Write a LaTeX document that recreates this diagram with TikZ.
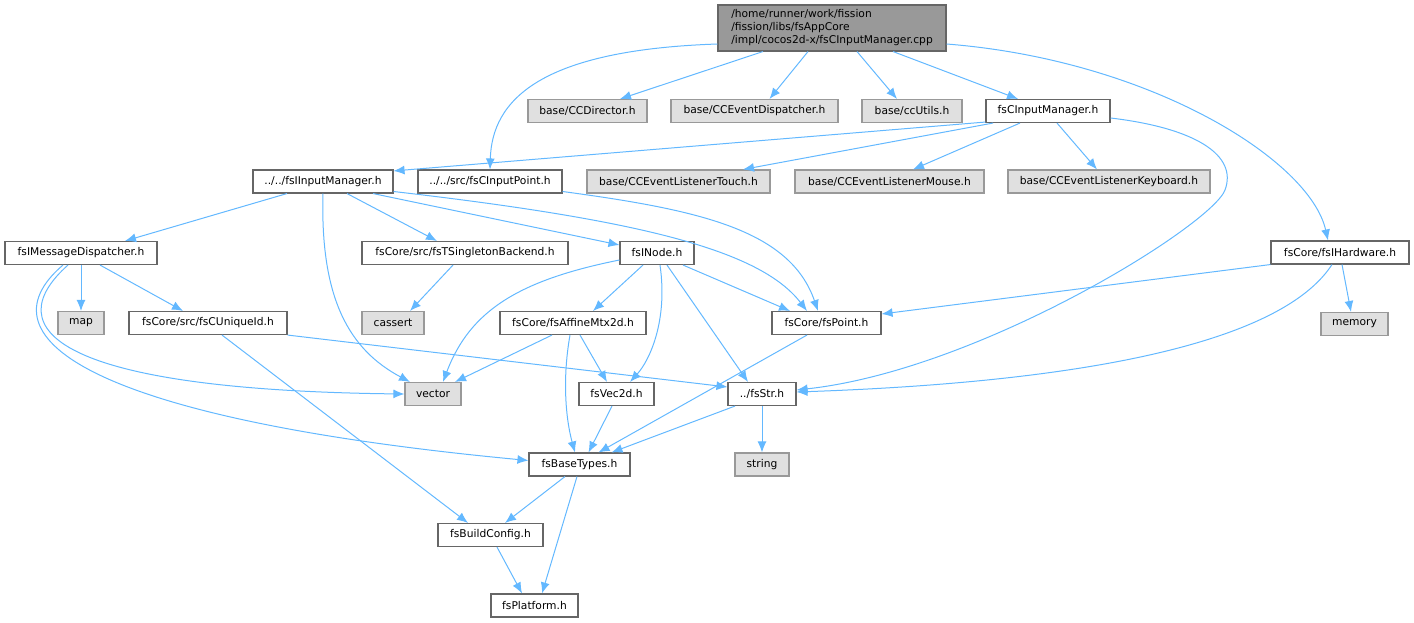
\documentclass[tikz,border=0pt]{standalone}
\usepackage{fontspec}
\setmainfont{DejaVu Sans}
\usetikzlibrary{arrows.meta}
\definecolor{edgec}{HTML}{63B8FF}
\definecolor{bdark}{HTML}{666666}
\definecolor{blight}{HTML}{999999}
\definecolor{fgray}{HTML}{E0E0E0}
\definecolor{froot}{HTML}{999999}
\begin{document}
\begin{tikzpicture}[x=1pt,y=-1pt,
  every node/.style={font=\fontsize{10.7}{13}\selectfont, inner sep=0pt, minimum height=23pt, line width=1.1pt},
  wnode/.style={draw=bdark, fill=white},
  gnode/.style={draw=blight, fill=fgray},
  rnode/.style={draw=bdark, fill=froot, align=left},
  edge/.style={draw=edgec, line width=1pt, -{Latex[length=11pt,width=9pt]}}]
\useasboundingbox (0,0) rectangle (1414,623);
% nodes
\node[rnode, minimum width=228pt, minimum height=46pt] (root) at (832,28) {/home/runner/work/fission\\/fission/libs/fsAppCore\\/impl/cocos2d-x/fsCInputManager.cpp};
\node[gnode, minimum width=119pt] (ccdir) at (587.5,111) {base/CCDirector.h};
\node[gnode, minimum width=167pt] (ccdisp) at (754.5,111) {base/CCEventDispatcher.h};
\node[gnode, minimum width=100pt] (ccutils) at (912,111) {base/ccUtils.h};
\node[wnode, minimum width=124pt] (cim) at (1048,111) {fsCInputManager.h};
\node[wnode, minimum width=140pt] (iim) at (323,181.5) {../../fsIInputManager.h};
\node[wnode, minimum width=144pt] (cip) at (490,181.5) {../../src/fsCInputPoint.h};
\node[gnode, minimum width=183pt] (touch) at (678.5,181.5) {base/CCEventListenerTouch.h};
\node[gnode, minimum width=189pt] (mouse) at (889.5,181.5) {base/CCEventListenerMouse.h};
\node[gnode, minimum width=202pt] (kbd) at (1109,181.5) {base/CCEventListenerKeyboard.h};
\node[wnode, minimum width=138pt] (hw) at (1340,252.5) {fsCore/fsIHardware.h};
\node[gnode, minimum width=67pt] (memory) at (1354.5,324) {memory};
\node[wnode, minimum width=152pt] (imd) at (81,253) {fsIMessageDispatcher.h};
\node[gnode, minimum width=46pt] (map) at (81,323) {map};
\node[wnode, minimum width=158pt] (uid) at (208,323) {fsCore/src/fsCUniqueId.h};
\node[wnode, minimum width=206pt] (sgl) at (465,253) {fsCore/src/fsTSingletonBackend.h};
\node[gnode, minimum width=62pt] (cassert) at (393,323) {cassert};
\node[gnode, minimum width=56pt] (vector) at (433,394) {vector};
\node[wnode, minimum width=74pt] (inode) at (657,253) {fsINode.h};
\node[wnode, minimum width=146pt] (affine) at (573,323) {fsCore/fsAffineMtx2d.h};
\node[wnode, minimum width=109pt] (point) at (826.5,323) {fsCore/fsPoint.h};
\node[wnode, minimum width=75pt] (vec2d) at (616.5,394) {fsVec2d.h};
\node[wnode, minimum width=68pt] (str) at (762,394) {../fsStr.h};
\node[wnode, minimum width=101pt] (base) at (579.5,464.5) {fsBaseTypes.h};
\node[gnode, minimum width=54pt] (string) at (762,464.5) {string};
\node[wnode, minimum width=105pt] (build) at (490.5,535) {fsBuildConfig.h};
\node[wnode, minimum width=87pt] (plat) at (534.5,605.5) {fsPlatform.h};
% edges
\draw[edge] ([xshift=-69pt]root.south) -- ([xshift=32.5pt]ccdir.north);
\draw[edge] ([xshift=-24pt]root.south) -- ([xshift=15pt]ccdisp.north);
\draw[edge] ([xshift=25pt]root.south) -- ([xshift=-15pt]ccutils.north);
\draw[edge] ([xshift=61pt]root.south) -- ([xshift=-30pt]cim.north);
\draw[edge] ([yshift=-16pt]root.east) .. controls (1150,60) and (1310,160) .. ([xshift=-12pt]hw.north);
\draw[edge] ([yshift=-16pt]root.west) .. controls (540,50) and (492,100) .. (cip.north);
\draw[edge] ([yshift=1pt]cim.south west) -- ([yshift=-1.5pt]iim.north east);
\draw[edge] ([xshift=-55pt]cim.south) -- ([xshift=64.5pt]touch.north);
\draw[edge] ([xshift=-28pt]cim.south) -- ([xshift=23.5pt]mouse.north);
\draw[edge] ([xshift=9pt]cim.south) -- ([xshift=-12pt]kbd.north);
\draw[edge] ([yshift=-7pt]cim.east) .. controls (1195,128) and (1238,155) .. (1225,190) .. controls (1212,225) and (980,370) .. ([yshift=4pt]str.east);
\draw[edge] ([xshift=-8pt]hw.south) .. controls (1270,360) and (1000,385) .. ([yshift=2pt]str.east);
\draw[edge] (hw.south west) -- ([yshift=9pt]point.east);
\draw[edge] ([xshift=2pt]hw.south) -- ([xshift=-3.5pt]memory.north);
\draw[edge] ([xshift=-36pt]iim.south) -- ([xshift=44pt]imd.north);
\draw[edge] (iim.south) .. controls (320,300) and (350,350) .. ([xshift=-23pt]vector.north);
\draw[edge] ([xshift=24pt]iim.south) -- ([xshift=-28pt]sgl.north);
\draw[edge] ([xshift=50pt]iim.south) -- ([yshift=8pt]inode.west);
\draw[edge] ([yshift=-10pt]iim.east) .. controls (640,220) and (760,250) .. ([xshift=-19.5pt]point.north);
\draw[edge] ([yshift=-10pt]cip.east) .. controls (700,210) and (790,230) .. ([xshift=-8.5pt]point.north);
\draw[edge] (imd.south) -- (map.north);
\draw[edge] ([xshift=19pt]imd.south) -- ([xshift=-25pt]uid.north);
\draw[edge] ([xshift=-13pt]imd.south) .. controls (-5,330) and (60,390) .. (vector.west);
\draw[edge] ([xshift=-18pt]imd.south) .. controls (-25,340) and (100,420) .. ([yshift=4pt]base.west);
\draw[edge] (uid.south east) -- ([yshift=7pt]str.west);
\draw[edge] ([xshift=14pt]uid.south) -- ([xshift=-22.5pt]build.north);
\draw[edge] ([xshift=-12pt]sgl.south) -- ([xshift=17pt]cassert.north);
\draw[edge] ([yshift=-7pt]inode.west) .. controls (520,280) and (470,310) .. ([xshift=10pt]vector.north);
\draw[edge] ([xshift=-14pt]inode.south) -- ([xshift=20pt]affine.north);
\draw[edge] ([xshift=3pt]inode.south) .. controls (668,320) and (650,360) .. ([xshift=13.5pt]vec2d.north);
\draw[edge] ([xshift=10pt]inode.south) -- ([xshift=-14pt]str.north);
\draw[edge] ([xshift=26pt]inode.south) -- ([xshift=-36.5pt]point.north);
\draw[edge] ([xshift=-21pt]affine.south) -- ([xshift=22pt]vector.north);
\draw[edge] ([xshift=7pt]affine.south) -- ([xshift=-9.5pt]vec2d.north);
\draw[edge] ([xshift=-3pt]affine.south) .. controls (562,380) and (566,420) .. ([xshift=-4.5pt]base.north);
\draw[edge] ([xshift=-19.5pt]point.south) -- ([xshift=19pt]base.north);
\draw[edge] ([xshift=-4.5pt]vec2d.south) -- ([xshift=9pt]base.north);
\draw[edge] ([xshift=-27pt]str.south) -- ([xshift=32pt]base.north);
\draw[edge] (str.south) -- (string.north);
\draw[edge] ([xshift=-14.5pt]base.south) -- ([xshift=14.5pt]build.north);
\draw[edge] ([xshift=-2.5pt]base.south) -- ([xshift=7.5pt]plat.north);
\draw[edge] ([xshift=6.5pt]build.south) -- ([xshift=-12.5pt]plat.north);
\end{tikzpicture}
\end{document}
